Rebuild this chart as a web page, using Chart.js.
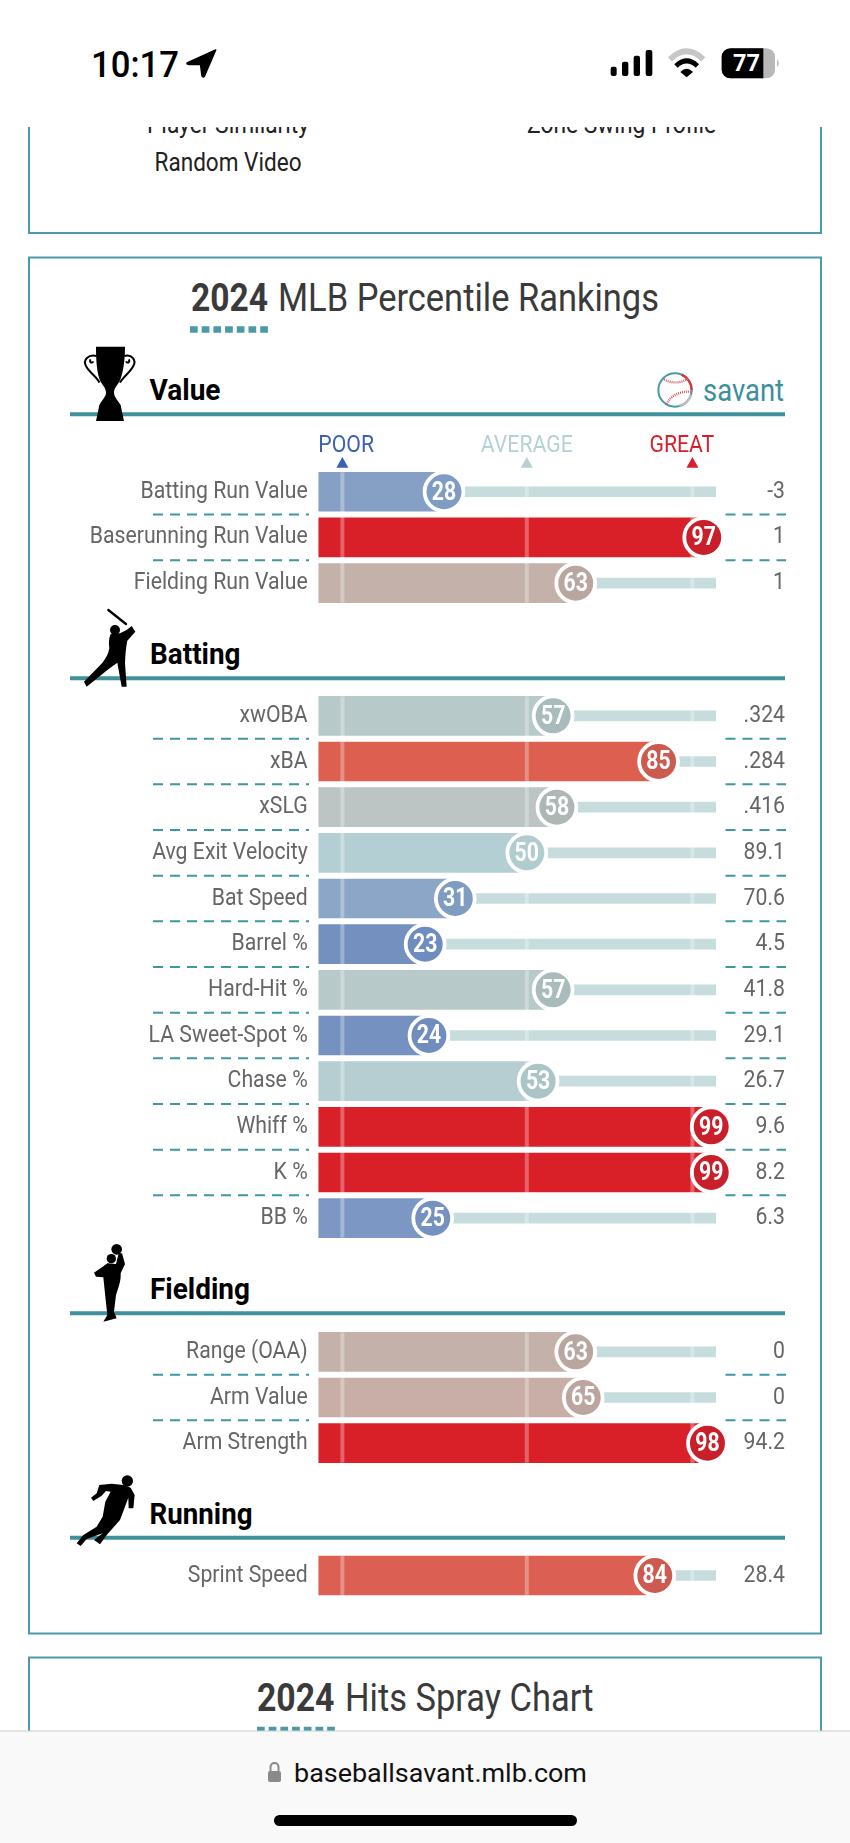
<!DOCTYPE html>
<html>
<head>
<meta charset="utf-8">
<script src="https://cdn.jsdelivr.net/npm/chart.js@4"></script>
<style>
html, body { margin: 0; padding: 0; background: #fff; }
#page { position: relative; width: 850px; height: 1843px; overflow: hidden; }
#page svg { position: absolute; left: 0; top: 0; }
#page canvas { position: absolute; left: 0; }
text { font-family: Roboto, sans-serif; }
</style>
</head>
<body>
<div id="page">
<svg width="850" height="1843" viewBox="0 0 850 1843">
  <!-- cards -->
  <rect x="29" y="100" width="792" height="133" fill="none" stroke="#4a9aa7" stroke-width="2"/>
  <rect x="29" y="257.5" width="792" height="1376" fill="none" stroke="#4a9aa7" stroke-width="2"/>
  <rect x="29" y="1657.5" width="792" height="120" fill="none" stroke="#4a9aa7" stroke-width="2"/>

  <!-- clipped nav links -->
  <text x="147" y="132.5" font-size="26" fill="#222" textLength="162" lengthAdjust="spacingAndGlyphs">Player Similarity</text>
  <text x="527" y="132.5" font-size="26" fill="#222" textLength="189" lengthAdjust="spacingAndGlyphs">Zone Swing Profile</text>
  <text x="154.5" y="170.7" font-size="26" fill="#222" textLength="147" lengthAdjust="spacingAndGlyphs">Random Video</text>
  <rect x="0" y="0" width="850" height="127" fill="#fff"/>

  <!-- status bar -->
  <text x="91" y="77" font-size="37" font-weight="500" fill="#000" textLength="88" lengthAdjust="spacingAndGlyphs">10:17</text>
  <path d="M215.7 50 L187 63 Q187 64.5 189 64.5 L200.5 64.5 L202 76 Q203 78 204.5 76 Z" fill="#000" stroke="#000" stroke-width="1.5" stroke-linejoin="round"/>
  <g transform="translate(600 40) scale(.3333)">
    <rect x="32" y="80" width="18" height="28" rx="6" fill="#000"/>
    <rect x="66" y="65" width="19" height="43" rx="6" fill="#000"/>
    <rect x="101" y="47" width="19" height="61" rx="6" fill="#000"/>
    <rect x="137" y="30" width="20" height="78" rx="6" fill="#000"/>
    <path d="M210 58 Q260 10 310 58" fill="none" stroke="#c6c6c6" stroke-width="17"/>
    <path d="M228 78 Q260 48 292 78" fill="none" stroke="#000" stroke-width="15"/>
    <path d="M241 96 Q260 76 279 96 L260 112 Z" fill="#000"/>
    <rect x="365" y="25" width="160" height="90" rx="26" fill="#b8b8b8"/>
    <path d="M391 25 H490 V115 H391 A26 26 0 0 1 365 89 V51 A26 26 0 0 1 391 25 Z" fill="#000"/>
    <path d="M531 58 Q542 70 531 82 Z" fill="#b8b8b8"/>
  </g>
  <text x="733" y="71" font-size="23" font-weight="700" fill="#fff" textLength="27" lengthAdjust="spacingAndGlyphs">77</text>

  <!-- percentile card heading -->
  <text x="191" y="310.7" font-size="38" font-weight="700" fill="#3a3a3a" textLength="77" lengthAdjust="spacingAndGlyphs">2024</text>
  <text x="278" y="310.7" font-size="38" fill="#3a3a3a" textLength="381" lengthAdjust="spacingAndGlyphs">MLB Percentile Rankings</text>
  <line x1="190" x2="270" y1="329.5" y2="329.5" stroke="#4a9aa7" stroke-width="6.5" stroke-dasharray="7.7 4"/>

  <!-- savant logo -->
  <g transform="translate(640 360) scale(.3333)">
    <circle cx="105" cy="90" r="50" fill="none" stroke="#4a9aa7" stroke-width="6"/>
    <path d="M125 44 A50 50 0 0 1 155 90" fill="none" stroke="#d9343a" stroke-width="7"/>
    <path d="M153 104 A50 50 0 0 1 118 138" fill="none" stroke="#bdbdbd" stroke-width="7"/>
    <path d="M72 58 Q110 78 145 55" fill="none" stroke="#e0555a" stroke-width="7" stroke-dasharray="3 3"/>
    <path d="M80 132 Q100 92 155 95" fill="none" stroke="#e0555a" stroke-width="7" stroke-dasharray="3 3"/>
  </g>
  <text x="703" y="400.7" font-size="31" fill="#3c8f9b" textLength="81" lengthAdjust="spacingAndGlyphs">savant</text>

  <!-- section headers -->
  <line x1="70" x2="785" y1="414.3" y2="414.3" stroke="#3f929c" stroke-width="4"/>
  <line x1="70" x2="785" y1="678.3" y2="678.3" stroke="#3f929c" stroke-width="4"/>
  <line x1="70" x2="785" y1="1313.3" y2="1313.3" stroke="#3f929c" stroke-width="4"/>
  <line x1="70" x2="785" y1="1537.7" y2="1537.7" stroke="#3f929c" stroke-width="4"/>
  <text x="149.5" y="400" font-size="30" font-weight="700" fill="#000" textLength="71" lengthAdjust="spacingAndGlyphs">Value</text>
  <text x="150" y="664" font-size="30" font-weight="700" fill="#000" textLength="90.5" lengthAdjust="spacingAndGlyphs">Batting</text>
  <text x="150" y="1299.3" font-size="30" font-weight="700" fill="#000" textLength="100" lengthAdjust="spacingAndGlyphs">Fielding</text>
  <text x="149.5" y="1524" font-size="30" font-weight="700" fill="#000" textLength="103" lengthAdjust="spacingAndGlyphs">Running</text>

  <!-- trophy -->
  <g transform="translate(70 340) scale(.3333)" fill="#000">
    <path d="M78 20 H165 C165 60 160 100 148 125 C140 138 132 145 132 158 C132 170 146 185 152 195 L156 215 L162 243 H78 L84 215 L88 195 C96 180 108 170 108 158 C108 145 100 138 92 125 C80 100 78 60 78 20 Z"/>
    <path d="M80 48 C55 42 38 60 48 78 C60 100 82 112 88 128 M62 58 C56 66 66 72 70 64 M163 48 C185 42 200 60 190 78 C178 100 158 112 150 128 M176 58 C182 66 172 72 168 64" fill="none" stroke="#000" stroke-width="6"/>
  </g>
  <!-- batter -->
  <g transform="translate(70 600) scale(.3333)" fill="#000">
    <line x1="115" y1="30" x2="168" y2="72" stroke="#000" stroke-width="7" stroke-linecap="round"/>
    <circle cx="135" cy="90" r="15"/>
    <path d="M122 102 C116 115 116 130 118 145 C116 160 108 175 96 190 L42 245 L50 260 L115 208 L142 188 L155 260 L170 260 L165 190 C166 165 168 140 172 122 L196 95 L185 78 L170 90 L150 100 Z"/>
  </g>
  <!-- fielder -->
  <g transform="translate(70 1240) scale(.3333)" fill="#000">
    <circle cx="140" cy="28" r="16"/>
    <circle cx="124" cy="56" r="14"/>
    <path d="M72 98 L98 80 L112 70 L138 72 L146 40 L156 40 L165 72 L152 100 C153 120 148 135 138 165 L132 215 L140 235 L100 245 L112 225 L106 170 L100 112 L78 110 Z"/>
  </g>
  <!-- runner -->
  <g transform="translate(70 1465) scale(.3333)" fill="#000">
    <circle cx="172" cy="48" r="17"/>
    <path d="M160 60 L125 56 L88 60 L80 85 L63 98 L70 108 L95 92 L108 78 L122 80 L106 110 L98 155 L80 185 L40 210 L20 235 L32 243 L50 222 L98 205 L72 225 L90 238 L112 208 L150 165 L165 125 L175 98 L176 130 L190 130 L194 90 L182 68 Z"/>
  </g>

  <!-- spray chart card heading -->
  <text x="257" y="1711" font-size="38" font-weight="700" fill="#3a3a3a" textLength="77.5" lengthAdjust="spacingAndGlyphs">2024</text>
  <text x="345" y="1711" font-size="38" fill="#3a3a3a" textLength="248.5" lengthAdjust="spacingAndGlyphs">Hits Spray Chart</text>
  <line x1="257" x2="337" y1="1730" y2="1730" stroke="#4a9aa7" stroke-width="6.5" stroke-dasharray="7.7 4"/>

  <!-- browser bar -->
  <rect x="0" y="1731" width="850" height="112" fill="#f9f9f9"/>
  <line x1="0" x2="850" y1="1731" y2="1731" stroke="#d0d0d0" stroke-width="1"/>
  <rect x="268" y="1771" width="13" height="11" rx="2" fill="#8a8a8a"/>
  <path d="M270.5 1771 V1767 A4 4 0 0 1 278.5 1767 V1771" fill="none" stroke="#8a8a8a" stroke-width="2"/>
  <text x="294" y="1782" font-size="26" fill="#111" textLength="293" lengthAdjust="spacingAndGlyphs">baseballsavant.mlb.com</text>
  <rect x="274" y="1815" width="303" height="11" rx="5.5" fill="#000"/>
</svg>

<canvas id="valueChart" width="850" height="176" style="top:430px"></canvas>
<canvas id="battingChart" width="850" height="548" style="top:693px"></canvas>
<canvas id="fieldingChart" width="850" height="137" style="top:1329px"></canvas>
<canvas id="runningChart" width="850" height="45" style="top:1553px"></canvas>
</div>

<script>
// percentile ranks and raw stats, section by section
const valueNames = ['Batting Run Value', 'Baserunning Run Value', 'Fielding Run Value'];
const valuePct = [28, 97, 63];
const valueStats = ['-3', '1', '1'];

const battingNames = ['xwOBA', 'xBA', 'xSLG', 'Avg Exit Velocity', 'Bat Speed', 'Barrel %', 'Hard-Hit %', 'LA Sweet-Spot %', 'Chase %', 'Whiff %', 'K %', 'BB %'];
const battingPct = [57, 85, 58, 50, 31, 23, 57, 24, 53, 99, 99, 25];
const battingStats = ['.324', '.284', '.416', '89.1', '70.6', '4.5', '41.8', '29.1', '26.7', '9.6', '8.2', '6.3'];

const fieldingNames = ['Range (OAA)', 'Arm Value', 'Arm Strength'];
const fieldingPct = [63, 65, 98];
const fieldingStats = ['0', '0', '94.2'];

const runningNames = ['Sprint Speed'];
const runningPct = [84];
const runningStats = ['28.4'];

const headerLabels = ['POOR', 'AVERAGE', 'GREAT'];
const headerLabelAt = [2, 50, 91.2];
const markerAt = [1, 50, 94];

// colours, looked up by percentile
const barColor = {23:'#7390bf',24:'#7591c0',25:'#7c97c3',28:'#86a0c5',31:'#8ba6c6',50:'#b3cfd3',53:'#b6ced1',57:'#b8c9c9',58:'#bcc5c3',63:'#c4b1aa',65:'#c8aea6',84:'#db6053',85:'#dc5f50',97:'#d91f28',98:'#d92029',99:'#d91f28'};
const dotColor = {23:'#6d8cbf',24:'#708dbe',25:'#7491c0',28:'#7f9cc4',31:'#7f9cc2',50:'#b0cccf',53:'#abc5c6',57:'#a9bcbb',58:'#aeb6b6',63:'#b9a69f',65:'#bca59f',84:'#cd5a50',85:'#cc5a4e',97:'#c91f2a',98:'#c91f2a',99:'#c91f2a'};
const headerColors = ['#3a62b0', '#b5d1d3', '#d8202c'];
const markerColors = ['#3a62b0', '#b5d1d3', '#d8202c'];

const FONT = 'Roboto, sans-serif';
const NARROW = 0.885; // the site uses Roboto Condensed, which isn't installed
const X_MIN = -5.37, X_MAX = 100.27;

// same as the scale's own drawLabels, only squeezed horizontally
function drawNarrowLabels(chartArea) {
    const ctx = this.ctx;
    this.getLabelItems(chartArea).forEach(item => {
        const o = item.options;
        ctx.save();
        ctx.translate(o.translation[0], o.translation[1]);
        ctx.scale(NARROW, 1);
        ctx.font = item.font.string;
        ctx.fillStyle = o.color;
        ctx.textAlign = o.textAlign;
        ctx.textBaseline = o.textBaseline;
        ctx.fillText(item.label, 0, item.textOffset);
        ctx.restore();
    });
}

const rankingPlugin = {
    id: 'ranking',
    // white ticks go above the bars and tracks but under the dots
    beforeDatasetDraw(chart, args) {
        if (args.index !== 0) return;
        const { ctx, chartArea, scales } = chart;
        const pad = (chartArea.bottom - chartArea.top) / chart.data.labels.length / 2 - 19.5;
        ctx.save();
        ctx.fillStyle = 'rgba(255,255,255,0.3)';
        markerAt.forEach(v => {
            const x = scales.x.getPixelForValue(v);
            ctx.fillRect(x - 2, chartArea.top + pad, 4, chartArea.bottom - chartArea.top - pad * 2);
        });
        ctx.restore();
    },
    afterDatasetsDraw(chart) {
        const { ctx, scales } = chart;
        const meta = chart.getDatasetMeta(0);
        const pct = chart.data.datasets[0].data;
        ctx.save();
        // numbers in the dots
        ctx.fillStyle = '#fff';
        ctx.font = 'bold 25px ' + FONT;
        ctx.textAlign = 'center';
        ctx.textBaseline = 'middle';
        meta.data.forEach((pt, i) => {
            ctx.save();
            ctx.translate(pt.x, pt.y + 1.5);
            ctx.scale(0.85, 1);
            ctx.fillText(pct[i], 0, 0);
            ctx.restore();
        });
        // dashed separators beside the bars
        ctx.strokeStyle = '#3f97a3';
        ctx.lineWidth = 2;
        ctx.setLineDash([10, 7]);
        for (let i = 0; i < pct.length - 1; i++) {
            const y = (scales.y.getPixelForValue(i) + scales.y.getPixelForValue(i + 1)) / 2;
            ctx.beginPath();
            ctx.moveTo(153, y); ctx.lineTo(309, y);
            ctx.moveTo(725.5, y); ctx.lineTo(786, y);
            ctx.stroke();
        }
        ctx.setLineDash([]);
        // triangles under POOR / AVERAGE / GREAT
        if (scales.x.options.display) {
            const top = chart.chartArea.top;
            markerAt.forEach((v, i) => {
                const x = scales.x.getPixelForValue(v);
                ctx.fillStyle = markerColors[i];
                ctx.beginPath();
                ctx.moveTo(x, top - 12); ctx.lineTo(x + 6, top - 1.2); ctx.lineTo(x - 6, top - 1.2);
                ctx.closePath();
                ctx.fill();
            });
        }
        ctx.restore();
    }
};

function makeChart(id, names, pct, stats, showHeader) {
    const fixWidth = w => s => { s.width = w; s.paddingTop = 0; s.paddingBottom = 0; s.drawLabels = drawNarrowLabels; };
    return new Chart(document.getElementById(id), {
        data: {
            labels: names,
            datasets: [{
                type: 'line',
                order: 0,
                data: pct,
                showLine: false,
                clip: false,
                pointStyle: 'circle',
                pointRadius: 19.4,
                pointBorderWidth: 3.8,
                pointBorderColor: '#fff',
                pointBackgroundColor: pct.map(p => dotColor[p])
            }, {
                type: 'bar',
                order: 1,
                data: pct.map(p => [p, X_MAX]),
                backgroundColor: '#c6dcdd',
                barThickness: 10
            }, {
                type: 'bar',
                order: 2,
                data: pct.map(p => [X_MIN, p]),
                backgroundColor: pct.map(p => barColor[p]),
                barThickness: 39
            }]
        },
        options: {
            indexAxis: 'y',
            responsive: false,
            animation: false,
            layout: { autoPadding: false, padding: { right: 65 } },
            plugins: { legend: { display: false }, tooltip: { enabled: false } },
            datasets: { bar: { grouped: false } },
            scales: {
                x: {
                    type: 'linear',
                    position: 'top',
                    display: showHeader,
                    min: X_MIN,
                    max: X_MAX,
                    grid: { display: false, drawTicks: false },
                    border: { display: false },
                    afterBuildTicks: s => { s.ticks = headerLabelAt.map(v => ({ value: v })); },
                    afterFit: s => {
                        s.height = showHeader ? 38.9 : 0;
                        s.paddingLeft = 0; s.paddingRight = 0;
                        s.drawLabels = drawNarrowLabels;
                    },
                    ticks: {
                        autoSkip: false,
                        maxRotation: 0,
                        padding: 9,
                        color: c => headerColors[c.index],
                        font: { family: FONT, size: 24 },
                        callback: (v, i) => headerLabels[i]
                    }
                },
                y: {
                    type: 'category',
                    offset: true,
                    grid: { display: false, drawTicks: false },
                    border: { display: false },
                    afterFit: fixWidth(318.4),
                    ticks: { padding: 10.7, color: '#666', autoSkip: false, font: { family: FONT, size: 24 } }
                },
                y2: {
                    type: 'category',
                    position: 'right',
                    offset: true,
                    labels: stats,
                    grid: { display: false, drawTicks: false, drawOnChartArea: false },
                    border: { display: false },
                    afterFit: fixWidth(69),
                    ticks: { crossAlign: 'far', color: '#666', autoSkip: false, font: { family: FONT, size: 24 } }
                }
            }
        },
        plugins: [rankingPlugin]
    });
}

makeChart('valueChart', valueNames, valuePct, valueStats, true);
makeChart('battingChart', battingNames, battingPct, battingStats, false);
makeChart('fieldingChart', fieldingNames, fieldingPct, fieldingStats, false);
makeChart('runningChart', runningNames, runningPct, runningStats, false);
</script>
</body>
</html>
